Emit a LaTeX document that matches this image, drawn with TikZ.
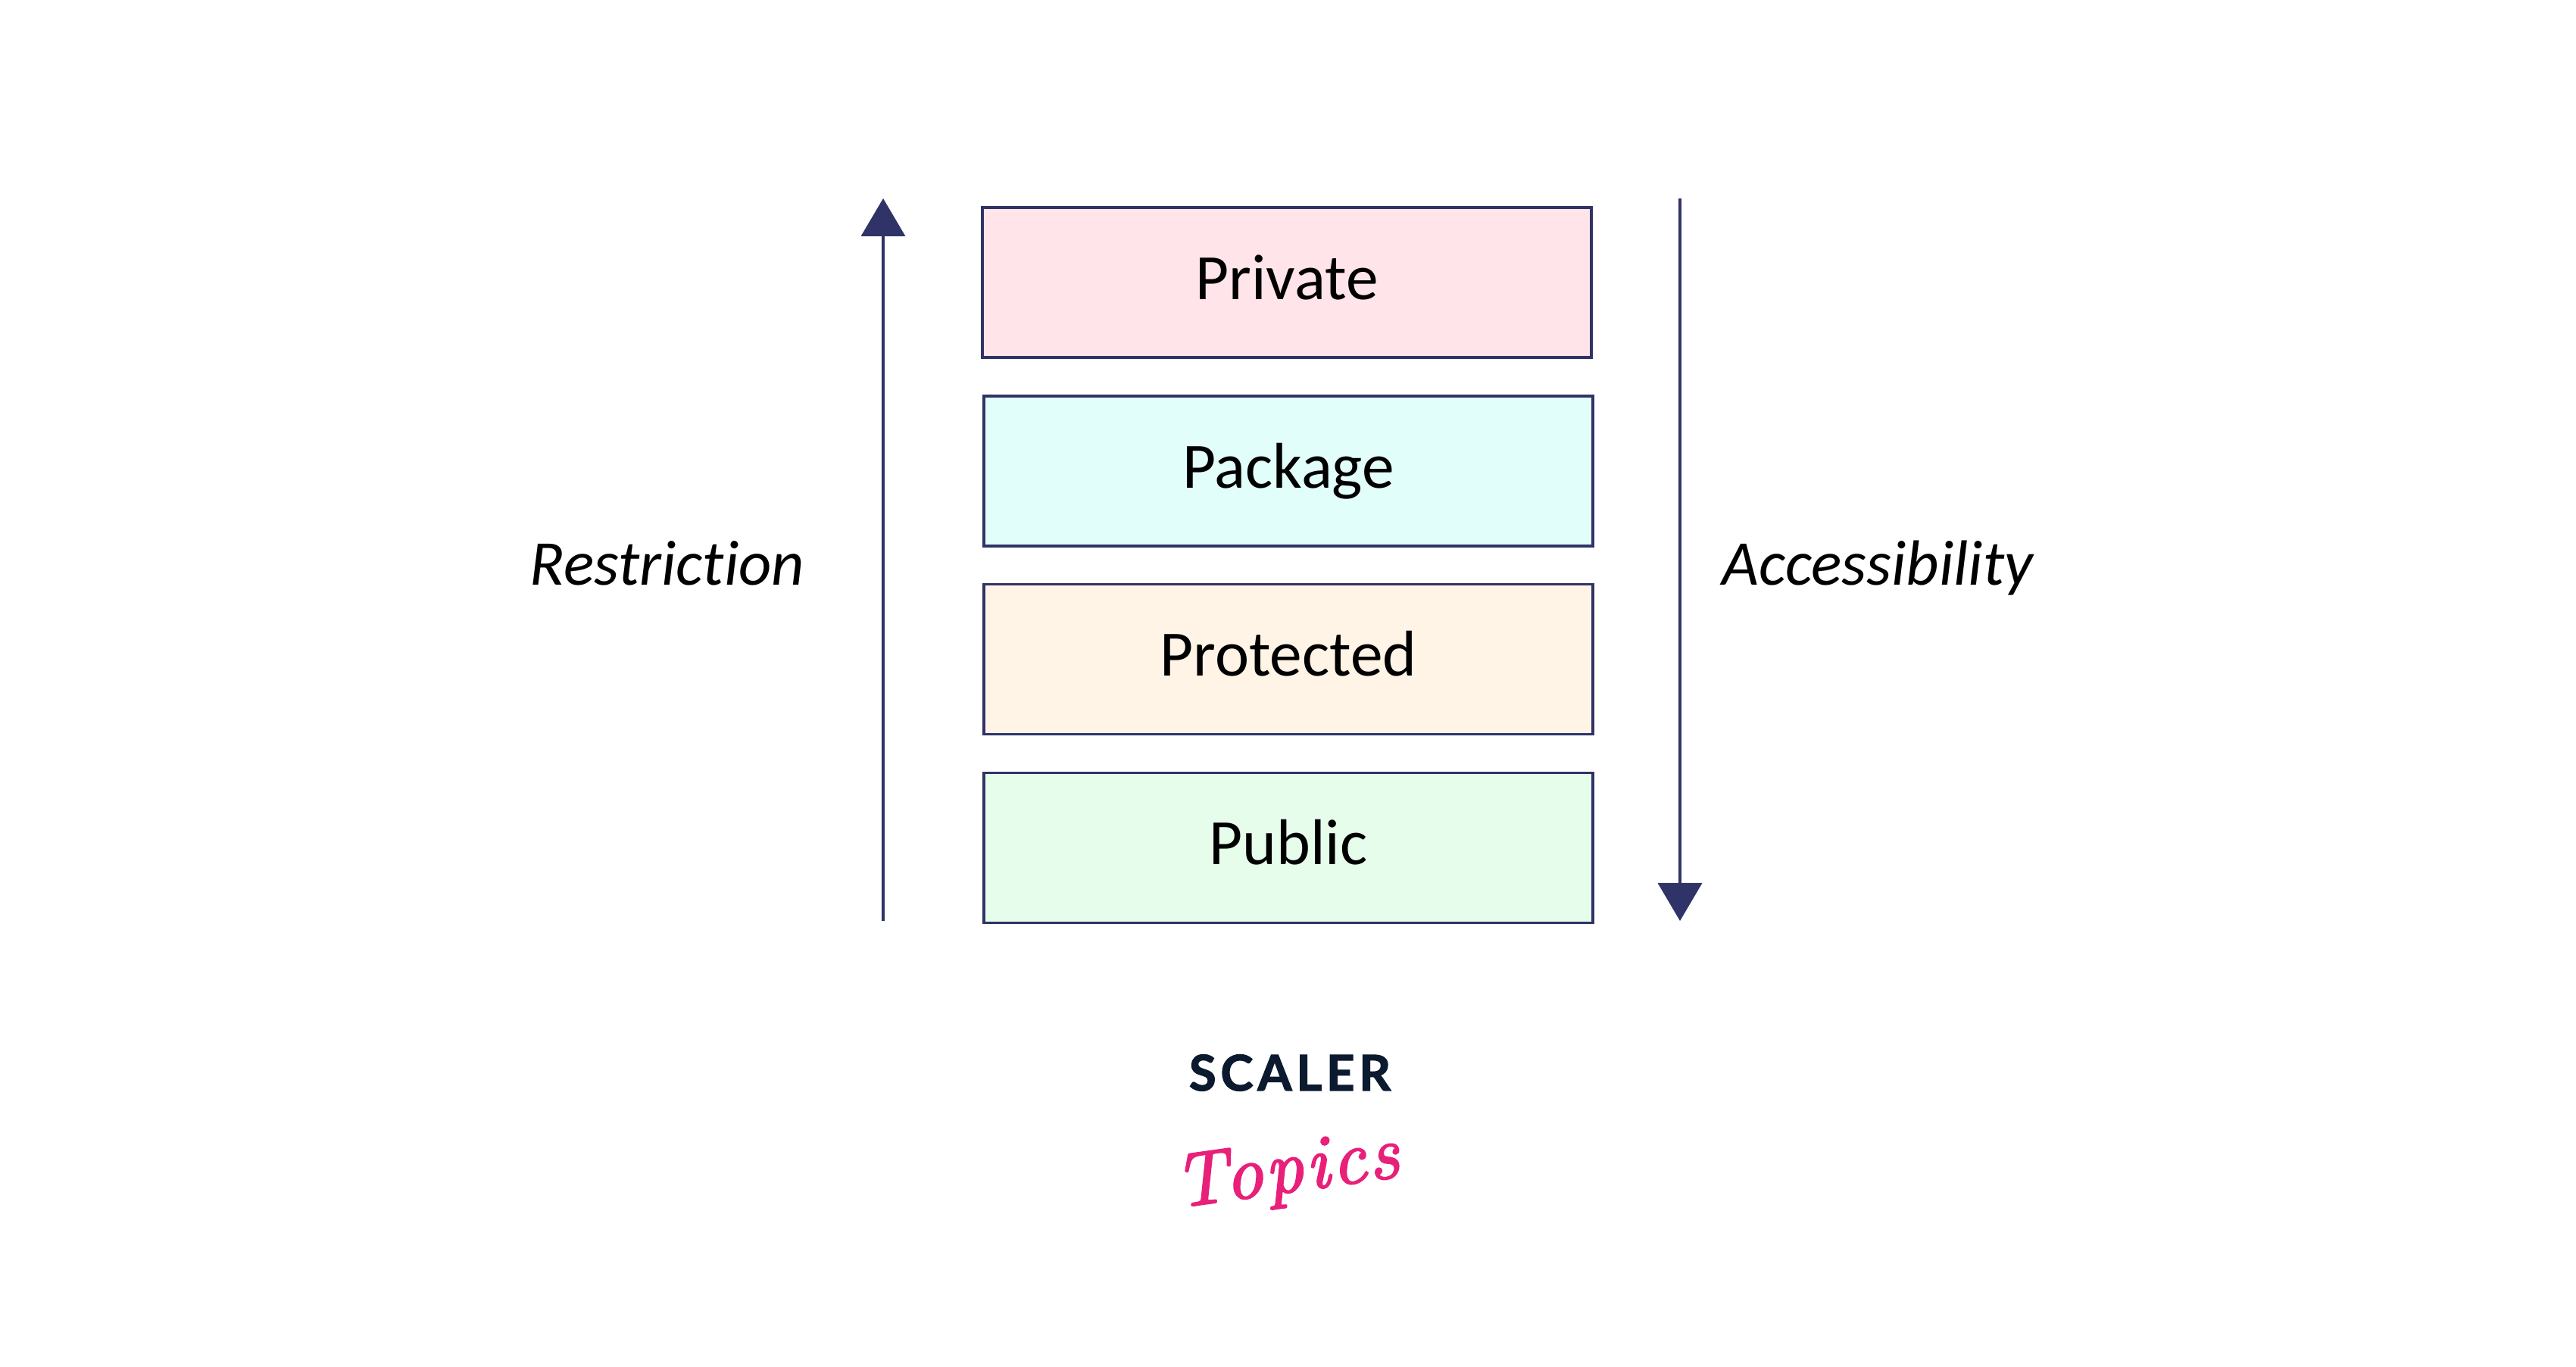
\documentclass[tikz,border=0pt]{standalone}
\usepackage{fontspec}
\setmainfont[Ligatures=NoCommon]{Carlito}
\newfontfamily\logosans[LetterSpace=9,BoldFeatures={FakeBold=2}]{Lato}
\newfontfamily\logoscript[LetterSpace=4,ItalicFeatures={FakeBold=2.5}]{Latin Modern Roman}
\usepackage{tikz}
\usetikzlibrary{arrows.meta,positioning}
\definecolor{strokenavy}{HTML}{2F3367}
\definecolor{logonavy}{HTML}{0B1A2E}
\definecolor{logopink}{HTML}{E8207A}
\definecolor{privatefill}{HTML}{FFE4E9}
\definecolor{packagefill}{HTML}{E2FEFA}
\definecolor{protectedfill}{HTML}{FFF4E6}
\definecolor{publicfill}{HTML}{E6FDEC}
\tikzset{
    levelbox/.style={draw=strokenavy, line width=1pt, minimum width=8.04cm, minimum height=1.98cm, inner sep=0pt, text height=0.6cm, text depth=0.15cm, font=\fontsize{24.3}{28}\selectfont, text=black},
    flowarrow/.style={-{Stealth[length=5mm,width=5.8mm,inset=0pt]}, line width=1pt, draw=strokenavy, color=strokenavy},
    sidelabel/.style={anchor=base, font=\fontsize{24}{28}\selectfont\itshape, text=black}
}

\begin{document}
\begin{tikzpicture}
    \useasboundingbox (0,0) rectangle (34.01,18.05);

    % Access levels
    \foreach \name/\x/\y/\col/\lab in {private/16.99/14.32/privatefill/Private, package/17.01/11.83/packagefill/Package, protected/17.01/9.345/protectedfill/Protected, public/17.01/6.855/publicfill/Public} {
        \node[levelbox, fill=\col] (\name) at (\x,\y) {\lab};
    }

    % Arrows
    \coordinate (restrictstart) at (11.66,5.89);
    \coordinate (restrictend) at (11.66,15.43);
    \coordinate (accessstart) at (22.18,15.43);
    \coordinate (accessend) at (22.18,5.89);
    \draw[flowarrow] (restrictstart) -- (restrictend);
    \draw[flowarrow] (accessstart) -- (accessend);

    % Side labels
    \node[sidelabel] (restriction) at (8.81,10.32) {Restriction};
    \node[sidelabel] (accessibility) at (24.79,10.32) {Accessibility};

    % Logo
    \node[font=\logosans\fontsize{18.5}{22}\selectfont\bfseries, text=logonavy, anchor=base] (scaler) at (17.03,3.65) {SCALER};
    \node[font=\logoscript\fontsize{28.5}{32}\selectfont\itshape, text=logopink, rotate=8] (topics) at (16.99,2.55) {Topics};
\end{tikzpicture}
\end{document}
